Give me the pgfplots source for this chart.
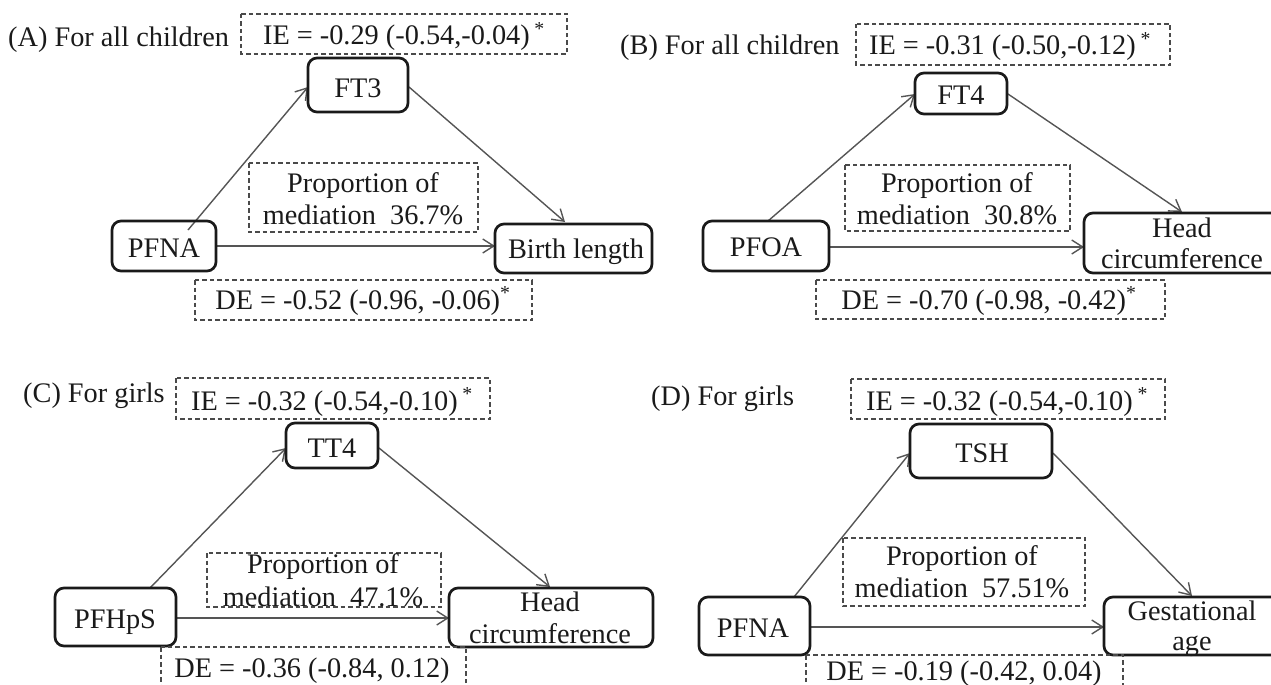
\documentclass[border=0pt]{standalone}
\usepackage{fontspec}
\setmainfont{Liberation Serif}
\usepackage{pgfplots}
\pgfplotsset{compat=1.18}
\usetikzlibrary{arrows.meta}

\definecolor{ink}{HTML}{1A1A1A}
\definecolor{arrowgray}{HTML}{555555}
\definecolor{dashgray}{HTML}{4A4A4A}

\tikzset{
  lbl/.style={font=\fontsize{28.3}{33}\selectfont, text=ink, inner sep=0pt, anchor=base},
  lblw/.style={lbl, anchor=base west},
  solidbox/.style={draw=ink, line width=2.7pt, rounded corners=9pt},
  dashbox/.style={draw=dashgray, line width=1.2pt, dash pattern=on 4.5pt off 3pt},
  path/.style={arrowgray, line width=1.4pt, -{Straight Barb[length=11pt,width=14pt]}},
}

% rounded variable box and dashed estimate box, in axis units (1 unit = 1pt)
\newcommand{\varbox}[4]{\draw[solidbox] (axis cs:#1,#2) rectangle (axis cs:#3,#4);}
\newcommand{\estbox}[4]{\draw[dashbox] (axis cs:#1,#2) rectangle (axis cs:#3,#4);}
\newcommand{\txt}[3]{\node[lbl] at (axis cs:#1,#2) {#3};}
\newcommand{\sig}{\,\textsuperscript{*}}

\begin{document}
\begin{tikzpicture}
\begin{axis}[
  width=1271pt, height=685pt, scale only axis,
  xmin=0, xmax=1271, ymin=0, ymax=685, y dir=reverse,
  hide axis, clip=true,
]
% ---------------- paths (exposure -> mediator -> outcome, direct) ----------------
% (A)
\addplot[path] coordinates {(188,230) (308,87)};
\addplot[path] coordinates {(409,87) (565,222)};
\addplot[path] coordinates {(216,246) (495,246)};
% (B)
\addplot[path] coordinates {(768,221) (915,94)};
\addplot[path] coordinates {(1008,94) (1182,212)};
\addplot[path] coordinates {(829,247) (1084,247)};
% (C)
\addplot[path] coordinates {(150,588) (286,448)};
\addplot[path] coordinates {(379,448) (550,587)};
\addplot[path] coordinates {(176,618) (449,618)};
% (D)
\addplot[path] coordinates {(794,597) (910,453)};
\addplot[path] coordinates {(1053,453) (1192,596)};
\addplot[path] coordinates {(810,627) (1104,627)};

% ---------------- (A) For all children ----------------
\node[lblw] at (axis cs:8,47) {(A) For all children};
\estbox{241}{14}{567}{54}
\txt{404}{45}{IE = -0.29 (-0.54,-0.04)\sig}
\varbox{308}{58}{408}{112}
\txt{358}{97}{FT3}
\estbox{249}{163}{478}{232}
\txt{363}{192}{Proportion of}
\txt{363}{224}{mediation\ \ 36.7\%}
\varbox{112}{221}{216}{271}
\txt{164}{257}{PFNA}
\varbox{495}{224}{652}{273}
\txt{576}{258}{Birth length}
\estbox{195}{280}{532}{320}
\txt{363}{309}{DE = -0.52 (-0.96, -0.06)\textsuperscript{*}}

% ---------------- (B) For all children ----------------
\node[lblw] at (axis cs:620,55) {(B) For all children};
\estbox{856}{24}{1170}{65}
\txt{1010}{55}{IE = -0.31 (-0.50,-0.12)\sig}
\varbox{915}{73}{1007}{114}
\txt{961}{104}{FT4}
\estbox{845}{165}{1070}{231}
\txt{957}{192}{Proportion of}
\txt{957}{224}{mediation\ \ 30.8\%}
\varbox{703}{221}{829}{271}
\txt{766}{256}{PFOA}
\varbox{1084}{213}{1300}{273}
\txt{1182}{237}{Head}
\txt{1182}{268}{circumference}
\estbox{816}{280}{1165}{319}
\txt{989}{309}{DE = -0.70 (-0.98, -0.42)\textsuperscript{*}}

% ---------------- (C) For girls ----------------
\node[lblw] at (axis cs:23,402) {(C) For girls};
\estbox{176}{378}{490}{419}
\txt{332}{410}{IE = -0.32 (-0.54,-0.10)\sig}
\varbox{286}{423}{378}{468}
\txt{332}{457}{TT4}
\estbox{207}{553}{441}{607}
\txt{323}{573}{Proportion of}
\txt{323}{606}{mediation\ \ 47.1\%}
\varbox{55}{588}{176}{646}
\txt{115}{628}{PFHpS}
\varbox{449}{588}{653}{647}
\txt{550}{611}{Head}
\txt{550}{643}{circumference}
\estbox{161}{647}{466}{700}
\txt{312}{677}{DE = -0.36 (-0.84, 0.12)}

% ---------------- (D) For girls ----------------
\node[lblw] at (axis cs:651,405) {(D) For girls};
\estbox{851}{379}{1165}{419}
\txt{1007}{410}{IE = -0.32 (-0.54,-0.10)\sig}
\varbox{910}{424}{1052}{478}
\txt{982}{462}{TSH}
\estbox{843}{538}{1085}{606}
\txt{962}{565}{Proportion of}
\txt{962}{597}{mediation\ \ 57.51\%}
\varbox{699}{597}{810}{655}
\txt{753}{637}{PFNA}
\varbox{1104}{597}{1300}{655}
\txt{1192}{620}{Gestational}
\txt{1192}{650}{age}
\estbox{806}{655}{1123}{700}
\txt{964}{680}{DE = -0.19 (-0.42, 0.04)}
\end{axis}
\pgfresetboundingbox
\path[use as bounding box] (current axis.south west) rectangle (current axis.north east);
\end{tikzpicture}
\end{document}
